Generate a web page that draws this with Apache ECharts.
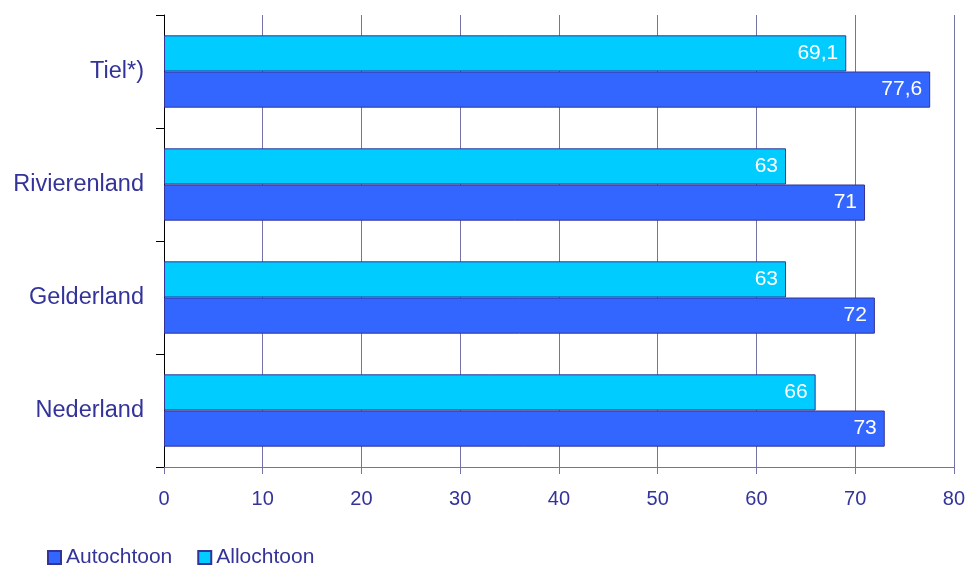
<!DOCTYPE html>
<html>
<head>
<meta charset="utf-8">
<script src="https://cdn.jsdelivr.net/npm/echarts@6/dist/echarts.min.js"></script>
<style>html,body{margin:0;padding:0;background:#fff}#c{width:968px;height:568px}</style>
</head>
<body>
<div id="c"></div>
<script>
var categories = ['Tiel*)', 'Rivierenland', 'Gelderland', 'Nederland'];
var autochtoon = [77.6, 71, 72, 73];
var allochtoon = [69.1, 63, 63, 66];
var xTicks = [0, 10, 20, 30, 40, 50, 60, 70, 80];

var chart = echarts.init(document.getElementById('c'));
var fmt = function (p) { return String(p.value).replace('.', ','); };
var font = 'Liberation Sans, Arial, sans-serif';
chart.setOption({
  animation: false,
  textStyle: { fontFamily: font },
  legend: {
    data: ['Autochtoon', 'Allochtoon'],
    left: 42, top: 542,
    itemWidth: 13, itemHeight: 13, itemGap: 25,
    icon: 'rect',
    textStyle: { color: '#333399', fontSize: 21, fontFamily: font }
  },
  grid: { left: 164, right: 11, top: 15, bottom: 101, containLabel: false },
  xAxis: {
    type: 'value', min: xTicks[0], max: xTicks[xTicks.length - 1], interval: 10,
    axisLine: { show: true, lineStyle: { color: '#7373a6', width: 1 } },
    axisTick: { show: true, length: 7, lineStyle: { color: '#7373a6' } },
    splitLine: { show: true, lineStyle: { color: '#7373a6', width: 1 } },
    axisLabel: { color: '#333399', fontSize: 20, margin: 22, fontFamily: font }
  },
  yAxis: {
    type: 'category', data: categories, inverse: true,
    axisLine: { show: true, lineStyle: { color: '#000', width: 1 } },
    axisTick: { show: true, length: 8, lineStyle: { color: '#000' } },
    axisLabel: { color: '#333399', fontSize: 23.5, margin: 20, fontFamily: font }
  },
  series: [
    {
      name: 'Allochtoon', type: 'bar', data: allochtoon,
      barCategoryGap: '36%', barGap: '0%',
      itemStyle: { color: '#00ccff', borderColor: '#333399', borderWidth: 1 },
      label: { show: true, position: 'insideRight', distance: 8, color: '#fff', fontSize: 21, fontFamily: font, formatter: fmt }
    },
    {
      name: 'Autochtoon', type: 'bar', data: autochtoon,
      barCategoryGap: '36%', barGap: '0%',
      itemStyle: { color: '#3366ff', borderColor: '#333399', borderWidth: 1 },
      label: { show: true, position: 'insideRight', distance: 8, color: '#fff', fontSize: 21, fontFamily: font, formatter: fmt }
    }
  ]
});
</script>
</body>
</html>
